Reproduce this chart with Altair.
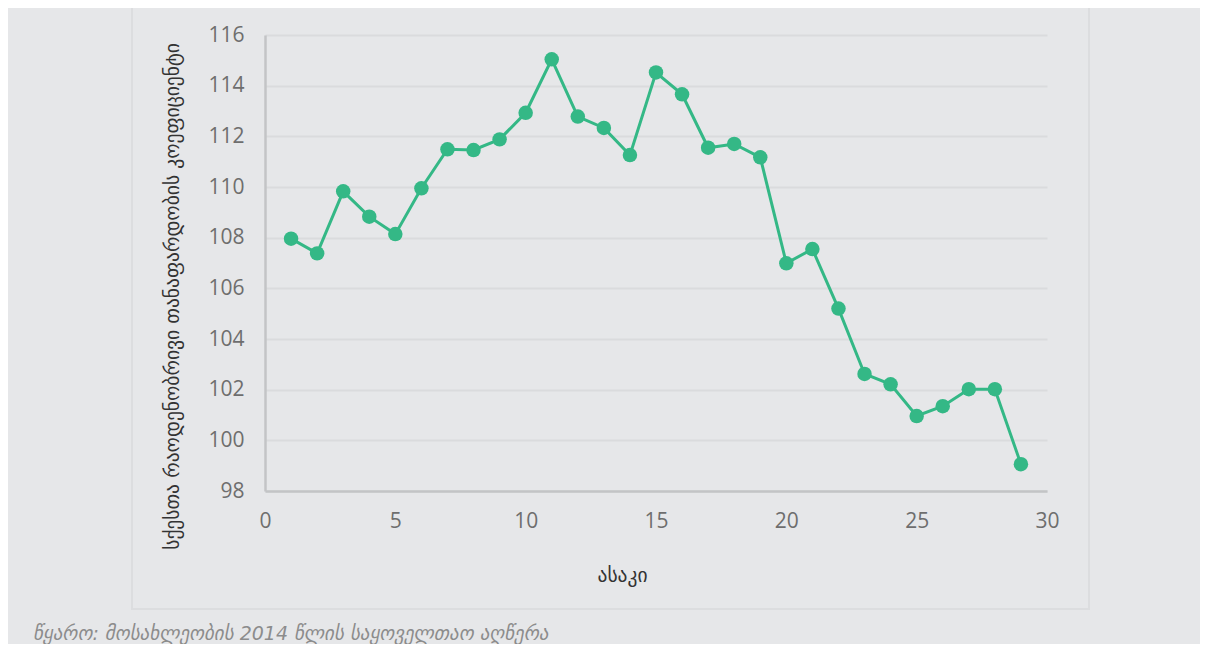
import altair as alt
import pandas as pd

ages = list(range(1, 30))
ratio = [107.96, 107.38, 109.83, 108.83, 108.14, 109.95, 111.49, 111.46, 111.88, 112.93,
         115.04, 112.78, 112.33, 111.26, 114.52, 113.66, 111.55, 111.70, 111.17, 106.99,
         107.55, 105.20, 102.62, 102.21, 100.96, 101.35, 102.02, 102.02, 99.06]

y_title = "სქესთა რაოდენობრივი თანაფარდობის კოეფიციენტი"
x_title = "ასაკი"
caption = "წყარო: მოსახლეობის 2014 წლის საყოველთაო აღწერა"

df = pd.DataFrame({"age": ages, "ratio": ratio})

GREEN = "#34b886"
FONT = "DejaVu Sans"

x_enc = alt.X("age:Q", scale=alt.Scale(domain=[0, 30], nice=False, zero=False),
              axis=alt.Axis(values=[0, 5, 10, 15, 20, 25, 30], grid=False, ticks=False,
                            domain=True, domainColor="#c3c4c6", domainWidth=2.5,
                            labelColor="#6e6e6e", labelFont="Open Sans", labelFontSize=21,
                            labelPadding=19, labelFlush=False,
                            title=x_title, titleFont=FONT, titleFontSize=19.5,
                            titleFontWeight="normal", titleColor="#333333",
                            titleX=357, titleY=75, titleAnchor="middle"))
y_enc = alt.Y("ratio:Q", scale=alt.Scale(domain=[98, 116], nice=False, zero=False),
              axis=alt.Axis(values=list(range(98, 117, 2)), grid=True, gridColor="#dadbdd",
                            gridWidth=2, ticks=False, domain=True, domainColor="#c3c4c6",
                            domainWidth=2.5, labelColor="#6e6e6e", labelFont="Open Sans",
                            labelFontSize=21, labelPadding=21, labelFlush=False,
                            title=y_title, titleFont=FONT,
                            titleFontSize=19.5, titleFontWeight="normal", titleColor="#333333",
                            titleX=-93, titleY=261, titleAngle=270, titleAlign="center",
                            titleBaseline="middle"))

line = alt.Chart(df).mark_line(color=GREEN, strokeWidth=3).encode(x=x_enc, y=y_enc)
pts = alt.Chart(df).mark_circle(color=GREEN, size=210, opacity=1).encode(x="age:Q", y="ratio:Q")

frame = alt.Chart(pd.DataFrame({"k": [0]})).mark_rect(
    fill=None, stroke="#dcdddf", strokeWidth=2, clip=False
).encode(x=alt.value(-133), x2=alt.value(824), y=alt.value(-30), y2=alt.value(574))

cap = alt.Chart(pd.DataFrame({"t": [caption]})).mark_text(
    align="left", baseline="alphabetic", font=FONT, fontStyle="italic", fontSize=19,
    color="#8c8c8c", clip=False
).encode(text="t:N", x=alt.value(-232), y=alt.value(605))

chart = alt.layer(frame, line, pts, cap).properties(
    width=782, height=456,
    background="#e6e7e9",
    padding={"left": 257, "top": 27, "right": 153, "bottom": 153},
    autosize=alt.AutoSizeParams(type="none"),
).configure_view(stroke=None)

chart.save("out.html", embed_options={"renderer": "svg", "actions": False})
